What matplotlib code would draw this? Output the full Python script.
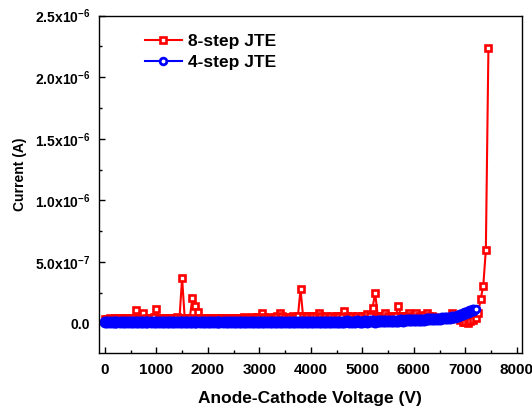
import matplotlib
matplotlib.use('Agg')
import matplotlib.pyplot as plt
from matplotlib.lines import Line2D
from matplotlib.ticker import MultipleLocator, FuncFormatter
import numpy as np

plt.rcParams['font.family'] = ['Liberation Sans', 'DejaVu Sans']
plt.rcParams['font.weight'] = 'bold'
plt.rcParams['mathtext.fontset'] = 'custom'
plt.rcParams['mathtext.rm'] = 'Liberation Sans:bold'
plt.rcParams['mathtext.bf'] = 'Liberation Sans:bold'
plt.rcParams['mathtext.default'] = 'bf'

# 8-step JTE: voltage (V) and current (x1e-8 A)
v8 = [0, 50, 100, 150, 200, 250, 300, 350, 400, 450,
      500, 550, 600, 650, 700, 750, 800, 850, 900, 950,
      1000, 1050, 1100, 1150, 1200, 1250, 1300, 1350, 1400, 1450,
      1500, 1550, 1600, 1650, 1700, 1750, 1800, 1850, 1900, 1950,
      2000, 2050, 2100, 2150, 2200, 2250, 2300, 2350, 2400, 2450,
      2500, 2550, 2600, 2650, 2700, 2750, 2800, 2850, 2900, 2950,
      3000, 3050, 3100, 3150, 3200, 3250, 3300, 3350, 3400, 3450,
      3500, 3550, 3600, 3650, 3700, 3750, 3800, 3850, 3900, 3950,
      4000, 4050, 4100, 4150, 4200, 4250, 4300, 4350, 4400, 4450,
      4500, 4550, 4600, 4650, 4700, 4750, 4800, 4850, 4900, 4950,
      5000, 5050, 5100, 5150, 5200, 5250, 5300, 5350, 5400, 5450,
      5500, 5550, 5600, 5650, 5700, 5750, 5800, 5850, 5900, 5950,
      6000, 6050, 6100, 6150, 6200, 6250, 6300, 6350, 6400, 6450,
      6500, 6550, 6600, 6650, 6700, 6750, 6800, 6850, 6900, 6950,
      7000, 7050, 7100, 7150, 7200, 7250, 7300, 7350, 7400, 7450]
i8 = [3.5, 4.0, 4.5, 4.0, 4.5, 5.0, 4.5, 5.0, 4.5, 5.0,
      4.5, 5.0, 11.5, 5.0, 4.5, 8.5, 5.0, 4.5, 5.0, 5.5,
      12.0, 5.0, 4.5, 4.5, 5.0, 4.5, 5.0, 5.0, 5.5, 5.0,
      37.0, 5.0, 4.5, 5.0, 21.0, 14.5, 9.5, 5.0, 4.5, 4.5,
      4.5, 5.0, 4.5, 4.5, 5.0, 4.5, 5.0, 5.0, 5.0, 4.5,
      5.0, 5.0, 4.5, 5.0, 5.5, 5.0, 5.0, 5.5, 5.0, 5.5,
      5.5, 9.0, 5.5, 5.0, 5.5, 5.0, 5.5, 6.0, 8.5, 6.0,
      5.5, 5.0, 5.5, 6.0, 5.5, 6.0, 28.0, 6.0, 6.5, 6.0,
      5.5, 6.0, 6.5, 8.5, 6.0, 5.5, 6.0, 5.5, 6.0, 5.5,
      6.0, 6.5, 6.0, 10.5, 6.0, 5.5, 6.0, 5.5, 6.0, 5.5,
      6.0, 6.5, 7.5, 6.5, 13.0, 25.0, 6.5, 6.0, 6.5, 8.5,
      6.0, 5.5, 6.0, 6.5, 14.5, 6.5, 6.0, 6.5, 8.5, 6.0,
      6.5, 9.0, 6.5, 6.0, 7.0, 8.5, 6.5, 6.0, 5.5, 5.0,
      5.0, 4.5, 4.5, 4.0, 4.0, 8.5, 5.0, 5.5, 3.0, 1.5,
      1.0, 0.8, 2.0, 3.0, 5.0, 9.0, 20.0, 31.0, 60.0, 224.0]

# 4-step JTE: voltage (V) and current (x1e-8 A)
v4 = [0, 50, 100, 150, 200, 225, 300, 350, 400, 450,
      500, 550, 600, 650, 700, 750, 800, 825, 900, 950,
      1000, 1050, 1100, 1150, 1200, 1250, 1300, 1350, 1400, 1450,
      1500, 1550, 1600, 1650, 1700, 1750, 1775, 1850, 1900, 1950,
      2000, 2050, 2100, 2150, 2200, 2225, 2300, 2350, 2400, 2450,
      2500, 2550, 2600, 2650, 2700, 2750, 2800, 2850, 2900, 2950,
      3000, 3050, 3100, 3150, 3200, 3250, 3300, 3350, 3400, 3450,
      3500, 3550, 3600, 3650, 3700, 3750, 3800, 3850, 3900, 3950,
      4000, 4050, 4100, 4150, 4200, 4250, 4300, 4350, 4400, 4450,
      4500, 4550, 4600, 4650, 4700, 4750, 4800, 4850, 4900, 4950,
      5000, 5050, 5100, 5150, 5200, 5250, 5300, 5350, 5400, 5450,
      5500, 5550, 5600, 5650, 5700, 5750, 5800, 5850, 5900, 5950,
      6000, 6050, 6100, 6150, 6200, 6250, 6300, 6350, 6400, 6450,
      6500, 6550, 6600, 6650, 6700, 6750, 6800, 6850, 6900, 6950,
      7000, 7050, 7100, 7150, 7200]
i4 = [1.2, 1.6, 1.0, 1.4, 1.8, 1.2, 1.0, 1.6, 1.4, 1.0,
      1.4, 1.8, 1.2, 1.0, 1.6, 1.4, 1.0, 1.2, 1.8, 1.4,
      1.0, 1.6, 1.2, 1.4, 1.8, 1.0, 1.2, 1.6, 1.4, 1.0,
      1.4, 1.8, 1.2, 1.0, 1.6, 1.4, 1.0, 1.2, 1.8, 1.4,
      1.0, 1.6, 1.2, 1.4, 1.8, 1.0, 1.2, 1.6, 1.4, 1.0,
      1.4, 1.8, 1.2, 1.0, 1.6, 1.4, 1.0, 1.2, 1.8, 1.4,
      1.0, 1.6, 1.2, 1.4, 1.8, 1.0, 1.2, 1.6, 1.4, 1.0,
      1.4, 1.8, 1.2, 1.0, 1.6, 1.4, 1.0, 1.2, 1.8, 1.4,
      1.2, 1.6, 1.4, 1.2, 1.8, 1.4, 1.2, 1.6, 1.8, 1.4,
      1.6, 1.8, 1.4, 1.6, 2.0, 1.6, 1.4, 1.8, 2.0, 1.6,
      1.8, 2.0, 1.8, 2.2, 2.0, 1.8, 2.2, 2.4, 2.0, 2.2,
      2.4, 2.2, 2.6, 2.4, 2.6, 2.8, 2.6, 2.8, 3.0, 2.8,
      3.0, 3.2, 3.0, 3.4, 3.4, 3.6, 3.6, 3.8, 4.0, 4.0,
      4.2, 4.4, 4.6, 4.8, 5.0, 5.4, 5.8, 6.3, 6.9, 7.6,
      8.4, 9.2, 10.1, 11.0, 12.0]

scale = 1e-8

def sci_fmt(v, pos):
    if abs(v) < 1e-12:
        return '0.0'
    e = int(np.floor(np.log10(abs(v))))
    m = v / 10**e
    return r'$%.1f\mathrm{x}10^{%d}$' % (m, e)

red = '#ff0000'
blue = '#0000ff'

fig = plt.figure(figsize=(5.32, 4.09), dpi=100)
ax = fig.add_axes([0.186, 0.1377, 0.795, 0.824])

ax.plot(v8, np.array(i8) * scale, '-s', color=red, mfc='white', mec=red,
        ms=4.6, mew=1.9, lw=1.5)
# dense 4-step sweep: open rings merge into a solid band
ax.plot(v4, np.array(i4) * scale, '-', color=blue, lw=1.5)
ax.plot(v4[:-1], np.array(i4[:-1]) * scale, 'o', mfc='none', mec=blue,
        ms=5.6, mew=3.0)
# last point of the sweep shows as a single open circle
ax.plot(v4[-1:], np.array(i4[-1:]) * scale, 'o', mfc='white', mec=blue,
        ms=4.8, mew=2.0)

ax.set_xlim(-115, 8100)
ax.set_ylim(-2.35e-7, 2.5e-6)
ax.xaxis.set_major_locator(MultipleLocator(1000))
ax.xaxis.set_minor_locator(MultipleLocator(500))
ax.yaxis.set_major_locator(MultipleLocator(5e-7))
ax.yaxis.set_minor_locator(MultipleLocator(2.5e-7))
ax.yaxis.set_major_formatter(FuncFormatter(sci_fmt))

ax.tick_params(which='both', direction='in', top=False, right=False, width=1.0)
ax.tick_params(which='major', length=4)
ax.tick_params(axis='x', which='major', pad=7.5, labelsize=11)
ax.tick_params(axis='y', which='major', pad=6.5, labelsize=10)
ax.tick_params(which='minor', length=2)
for s in ax.spines.values():
    s.set_linewidth(1.0)

ax.set_xlabel('Anode-Cathode Voltage (V)', fontsize=12.5, fontweight='bold')
ax.xaxis.label.set_va('center')
ax.xaxis.set_label_coords(0.5, -0.137)
ax.set_ylabel('Current (A)', fontsize=10, fontweight='bold')
ax.yaxis.label.set_va('center')
ax.yaxis.set_label_coords(-0.187, 0.53)

handles = [Line2D([], [], color=red, marker='s', mfc='white', mec=red, ms=4.6, mew=1.9, lw=1.5),
           Line2D([], [], color=blue, marker='o', mfc='white', mec=blue, ms=4.8, mew=2.0, lw=1.5)]
ax.legend(handles, ['8-step JTE', '4-step JTE'], loc='upper left',
          bbox_to_anchor=(0.109, 0.945), frameon=False,
          borderaxespad=0, borderpad=0, handlelength=2.1, handletextpad=0.4,
          labelspacing=0.3, prop={'size': 12.5, 'weight': 'bold'})

fig.savefig('out.png', dpi=100)
